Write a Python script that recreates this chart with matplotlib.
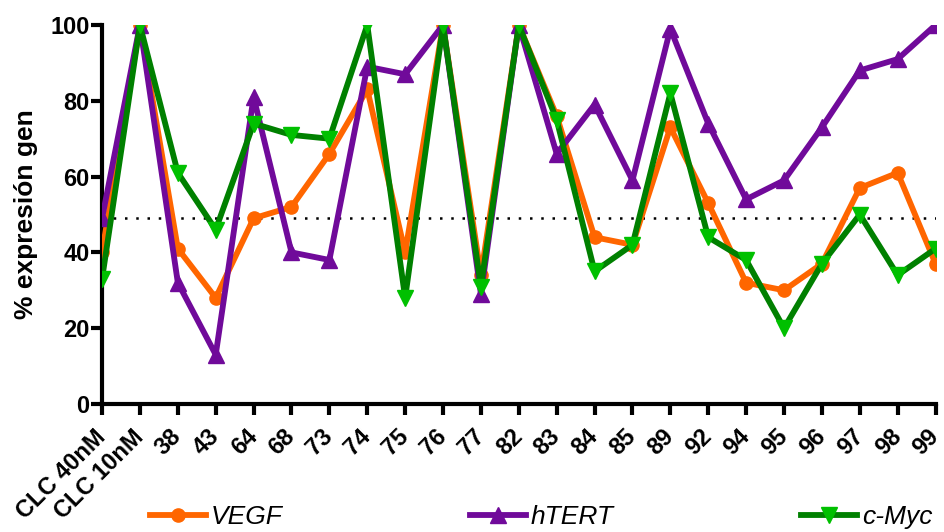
import matplotlib
matplotlib.use("Agg")
import matplotlib.pyplot as plt
from matplotlib.lines import Line2D

plt.rcParams['font.family'] = ['Liberation Sans', 'DejaVu Sans']

categories = ["CLC 40nM", "CLC 10nM", "38", "43", "64", "68", "73", "74", "75", "76",
              "77", "82", "83", "84", "85", "89", "92", "94", "95", "96", "97", "98", "99"]

vegf = [40, 100, 41, 28, 49, 52, 66, 83, 40, 100, 34, 100, 76, 44, 42, 73, 53, 32, 30, 37, 57, 61, 37]
htert = [49, 100, 32, 13, 81, 40, 38, 89, 87, 100, 29, 100, 66, 79, 59, 99, 74, 54, 59, 73, 88, 91, 100]
cmyc = [33, 100, 61, 46, 74, 71, 70, 100, 28, 100, 31, 100, 75, 35, 42, 82, 44, 38, 20, 37, 50, 34, 41]

reference_level = 49
y_ticks = [0, 20, 40, 60, 80, 100]

ORANGE = '#FF6600'
PURPLE = '#700A9A'
GREEN = '#008000'
GREEN_MK = '#00C000'
LW = 4.2

fig = plt.figure(figsize=(9.45, 5.32), dpi=100)
ax = fig.add_axes([0.108, 0.2406, 0.882, 0.7124])

x = list(range(len(categories)))

ax.axhline(reference_level, color='black', lw=1.8, ls=(0, (1, 3.5)), zorder=1)

ax.plot(x, vegf, color=ORANGE, lw=LW, marker='o', ms=9.5,
        mfc=ORANGE, mec=ORANGE, zorder=3)
ax.plot(x, htert, color=PURPLE, lw=LW, marker='^', ms=11,
        mfc=PURPLE, mec=PURPLE, zorder=4)
ax.plot(x, cmyc, color=GREEN, lw=LW, marker='v', ms=11,
        mfc=GREEN_MK, mec=GREEN_MK, zorder=5)

ax.set_xlim(0, len(categories) - 1)
ax.set_ylim(0, 100)
ax.set_yticks(y_ticks)
ax.set_yticklabels([str(v) for v in y_ticks], fontsize=17, fontweight='bold')
ax.set_xticks(x)
ax.set_xticklabels(categories, fontsize=17, fontweight='bold', rotation=45,
                   ha='right', va='center', rotation_mode='anchor')

for side in ('top', 'right'):
    ax.spines[side].set_visible(False)
for side in ('left', 'bottom'):
    ax.spines[side].set_linewidth(3)
ax.tick_params(axis='both', direction='out', length=8, width=3)
ax.tick_params(axis='x', pad=13)
ax.tick_params(axis='y', pad=1)

ax.set_ylabel('% expresión gen', fontsize=19, fontweight='bold', labelpad=9)

handles = [
    Line2D([], [], color=ORANGE, lw=LW, marker='o', ms=9.5, mfc=ORANGE, mec=ORANGE),
    Line2D([], [], color=PURPLE, lw=LW, marker='^', ms=11, mfc=PURPLE, mec=PURPLE),
    Line2D([], [], color=GREEN, lw=LW, marker='v', ms=11, mfc=GREEN_MK, mec=GREEN_MK),
]
fig.legend(handles, ['VEGF', 'hTERT', 'c-Myc'], loc='center left',
           bbox_to_anchor=(0.159, 0.028), ncol=3, frameon=False,
           prop={'size': 19, 'style': 'italic'}, handlelength=2.1,
           handletextpad=0.2, columnspacing=7.1, borderpad=0, borderaxespad=0)

fig.savefig('out.png', dpi=100)
